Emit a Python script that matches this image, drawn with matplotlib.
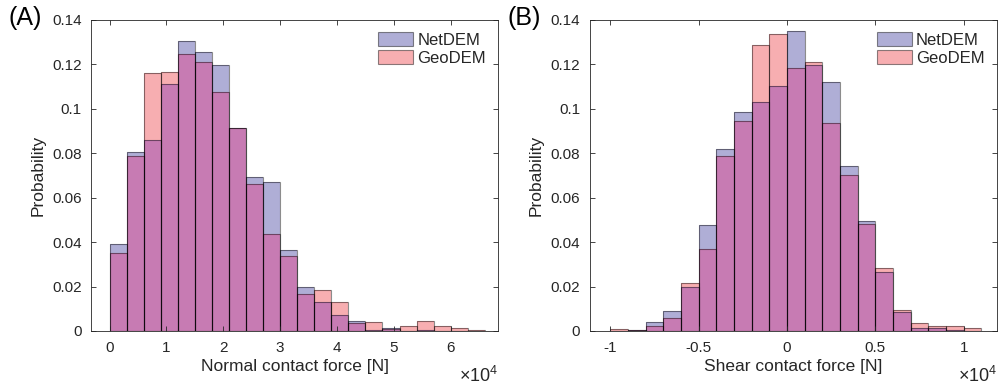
import numpy as np
import matplotlib.pyplot as plt
from matplotlib.patches import Patch
from matplotlib.ticker import FuncFormatter

plt.rcParams["font.family"] = ["Liberation Sans", "DejaVu Sans"]
plt.rcParams["mathtext.fontset"] = "custom"
plt.rcParams["mathtext.rm"] = "Liberation Sans"

# histogram data (probability per bin)
normal_bins = [0, 3000, 6000, 9000, 12000, 15000, 18000, 21000, 24000, 27000, 30000,
               33000, 36000, 39000, 42000, 45000, 48000, 51000, 54000, 57000, 60000, 63000]
normal_width = 3000
normal_netdem = [0.0391, 0.0804, 0.0861, 0.1113, 0.1307, 0.1257, 0.1198, 0.0915, 0.0693, 0.0669, 0.0366,
                 0.0197, 0.0129, 0.0071, 0.0047, 0.0003, 0.0012, 0.0, 0.0003, 0.0, 0.0, 0.0]
normal_geodem = [0.0353, 0.0789, 0.1162, 0.1168, 0.1245, 0.1212, 0.1075, 0.0912, 0.0660, 0.0437, 0.0337,
                 0.0166, 0.0184, 0.0132, 0.0038, 0.0039, 0.0007, 0.0021, 0.0047, 0.0021, 0.0012, 0.0003]

shear_bins = [-10000, -9000, -8000, -7000, -6000, -5000, -4000, -3000, -2000, -1000, 0,
              1000, 2000, 3000, 4000, 5000, 6000, 7000, 8000, 9000, 10000]
shear_width = 1000
shear_netdem = [0.0002, 0.0005, 0.0039, 0.0090, 0.0198, 0.0475, 0.0820, 0.0988, 0.1030, 0.1105, 0.1349,
                0.1198, 0.1122, 0.0744, 0.0497, 0.0265, 0.0087, 0.0012, 0.0012, 0.0003, 0.0]
shear_geodem = [0.0007, 0.0004, 0.0021, 0.0057, 0.0218, 0.0370, 0.0788, 0.0947, 0.1289, 0.1338, 0.1185,
                0.1210, 0.0938, 0.0702, 0.0481, 0.0284, 0.0096, 0.0038, 0.0022, 0.0021, 0.0012]

yticks = [0, 0.02, 0.04, 0.06, 0.08, 0.1, 0.12, 0.14]
normal_xticks = [0, 10000, 20000, 30000, 40000, 50000, 60000]
shear_xticks = [-10000, -5000, 0, 5000, 10000]

c_net = "#afaed6"
c_geo = "#f7aeb1"
c_both = "#c77bb3"
c_edge = (0, 0, 0, 0.45)
c_text = "#262626"

fig = plt.figure(figsize=(10.01, 3.86), dpi=100)
ax1 = fig.add_axes([0.0914, 0.1425, 0.4066, 0.8057])
ax2 = fig.add_axes([0.5894, 0.1425, 0.4066, 0.8057])


def draw_hist(ax, bins, width, net, geo):
    net = np.array(net)
    geo = np.array(geo)
    low = np.minimum(net, geo)
    ax.bar(bins, low, width, align="edge", color=c_both, linewidth=0)
    ax.bar(bins, net - low, width, bottom=low, align="edge", color=c_net, linewidth=0)
    ax.bar(bins, geo - low, width, bottom=low, align="edge", color=c_geo, linewidth=0)
    ax.bar(bins, net, width, align="edge", fill=False, edgecolor=c_edge, linewidth=0.8)
    ax.bar(bins, geo, width, align="edge", fill=False, edgecolor=c_edge, linewidth=0.8)


draw_hist(ax1, normal_bins, normal_width, normal_netdem, normal_geodem)
draw_hist(ax2, shear_bins, shear_width, shear_netdem, shear_geodem)

ax1.set_xlim(-3170, 68400)
ax2.set_xlim(-11150, 11880)
ax1.set_xticks(normal_xticks)
ax2.set_xticks(shear_xticks)
ax1.set_xlabel("Normal contact force [N]", fontsize=12.5, color=c_text, labelpad=3)
ax2.set_xlabel("Shear contact force [N]", fontsize=12.5, color=c_text, labelpad=3)

handles = [Patch(facecolor=c_net, edgecolor=c_edge, linewidth=0.8, label="NetDEM"),
           Patch(facecolor=c_geo, edgecolor=c_edge, linewidth=0.8, label="GeoDEM")]

for ax, tag in [(ax1, "(A)"), (ax2, "(B)")]:
    ax.set_ylim(0, 0.14)
    ax.set_yticks(yticks)
    ax.yaxis.set_major_formatter(FuncFormatter(lambda v, _: f"{v:g}"))
    ax.xaxis.set_major_formatter(FuncFormatter(lambda v, _: f"{v / 1e4:g}"))
    ax.set_ylabel("Probability", fontsize=12.5, color=c_text, labelpad=5)
    ax.tick_params(direction="in", length=3.5, width=0.6, top=True, right=True,
                   labelsize=11, labelcolor=c_text, color=c_text, pad=7)
    for s in ax.spines.values():
        s.set_color(c_text)
        s.set_linewidth(0.6)
    ax.text(1.0, -0.145, r"$\times10^{4}$", transform=ax.transAxes, ha="right", va="center",
            fontsize=13, color=c_text)
    ax.text(-0.162, 1.005, tag, transform=ax.transAxes, ha="center", va="center",
            fontsize=18, color="black")
    ax.legend(handles=handles, loc="upper right", frameon=False, fontsize=12,
              handlelength=2.1, handleheight=0.85, handletextpad=0.25, labelspacing=0.15,
              borderaxespad=0.35, labelcolor=c_text)

plt.savefig("out.png", dpi=100)
